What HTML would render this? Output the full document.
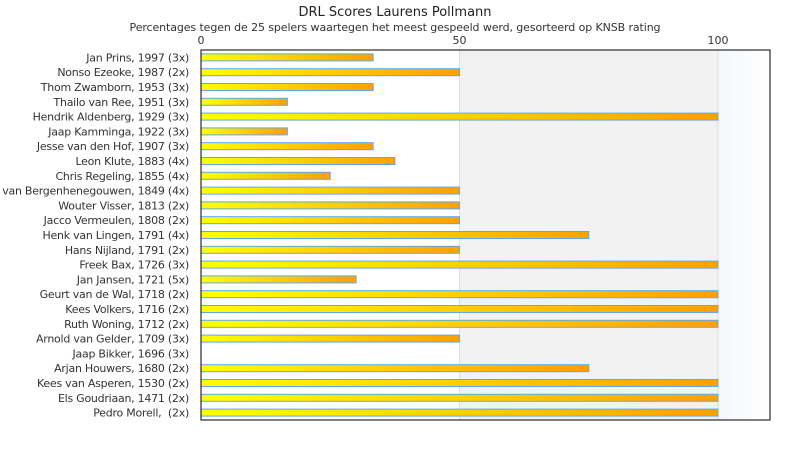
<!DOCTYPE html>
<html><head><meta charset="utf-8"><style>
body{margin:0;background:#fff;}
svg{display:block;font-family:"DejaVu Sans","Liberation Sans",sans-serif;}
text{white-space:pre;}
</style></head><body>
<svg id="chart" width="790" height="450">
<defs>
<linearGradient id="barg" x1="0" x2="1" y1="0" y2="0"><stop offset="0" stop-color="#ffff00"/><stop offset="1" stop-color="#ffa000"/></linearGradient>
<linearGradient id="bandg" x1="0" x2="1"><stop offset="0" stop-color="#f4f7fb"/><stop offset="1" stop-color="#ffffff"/></linearGradient>
</defs>
<text x="395" y="16" text-anchor="middle" font-size="13" fill="#222">DRL Scores Laurens Pollmann</text>
<text x="395" y="31" text-anchor="middle" font-size="11" letter-spacing="-0.1" fill="#333">Percentages tegen de 25 spelers waartegen het meest gespeeld werd, gesorteerd op KNSB rating</text>
<g id="plot"></g>
</svg>
<script>
const categories=["Jan Prins, 1997 (3x)","Nonso Ezeoke, 1987 (2x)","Thom Zwamborn, 1953 (3x)","Thailo van Ree, 1951 (3x)","Hendrik Aldenberg, 1929 (3x)","Jaap Kamminga, 1922 (3x)","Jesse van den Hof, 1907 (3x)","Leon Klute, 1883 (4x)","Chris Regeling, 1855 (4x)","Henk van Bergenhenegouwen, 1849 (4x)","Wouter Visser, 1813 (2x)","Jacco Vermeulen, 1808 (2x)","Henk van Lingen, 1791 (4x)","Hans Nijland, 1791 (2x)","Freek Bax, 1726 (3x)","Jan Jansen, 1721 (5x)","Geurt van de Wal, 1718 (2x)","Kees Volkers, 1716 (2x)","Ruth Woning, 1712 (2x)","Arnold van Gelder, 1709 (3x)","Jaap Bikker, 1696 (3x)","Arjan Houwers, 1680 (2x)","Kees van Asperen, 1530 (2x)","Els Goudriaan, 1471 (2x)","Pedro Morell,  (2x)"];
const values=[33.3,50,33.3,16.7,100,16.7,33.3,37.5,25,50,50,50,75,50,100,30,100,100,100,50,0,75,100,100,100];
const ticks=[0,50,100];
const NS="http://www.w3.org/2000/svg";
const L=201,R=770,T=50,B=420;
const xs=v=>L+v*(718-L)/100;
const rowH=(B-T)/categories.length;
const ys=i=>T+rowH*(i+0.5);
const g=document.getElementById('plot');
function mk(tag,attrs){const e=document.createElementNS(NS,tag);for(const k in attrs)e.setAttribute(k,attrs[k]);g.appendChild(e);return e;}
let e;
e=mk('rect',{x:xs(50),y:T,width:xs(100)-xs(50),height:B-T,fill:'#f2f2f2'});


e=mk('rect',{x:xs(100),y:T,width:R-xs(100),height:B-T,fill:'url(#bandg)'});


ticks.forEach(t=>{
 if(t>0){e=mk('line',{x1:xs(t),x2:xs(t),y1:T,y2:B,stroke:'#ddd'});
 
 }
 e=mk('text',{x:xs(t),y:T-6,'text-anchor':'middle','font-size':'11',fill:'#333'});
 e.textContent=t;
 
 
});
categories.forEach((c,i)=>{
 e=mk('text',{x:L-12,y:ys(i)+4,'text-anchor':'end','font-size':'11','letter-spacing':'-0.25',fill:'#333'});
 e.textContent=c;
 
 
 if(values[i]>0){
  e=mk('rect',{x:L,y:ys(i)-3.5,width:xs(values[i])-L,height:7,fill:'url(#barg)',stroke:'#5fa8f0','stroke-width':1});
  
  
 }
});
e=mk('rect',{x:L,y:T,width:R-L,height:B-T,fill:'none',stroke:'#000','stroke-width':1});


</script>
</body></html>
